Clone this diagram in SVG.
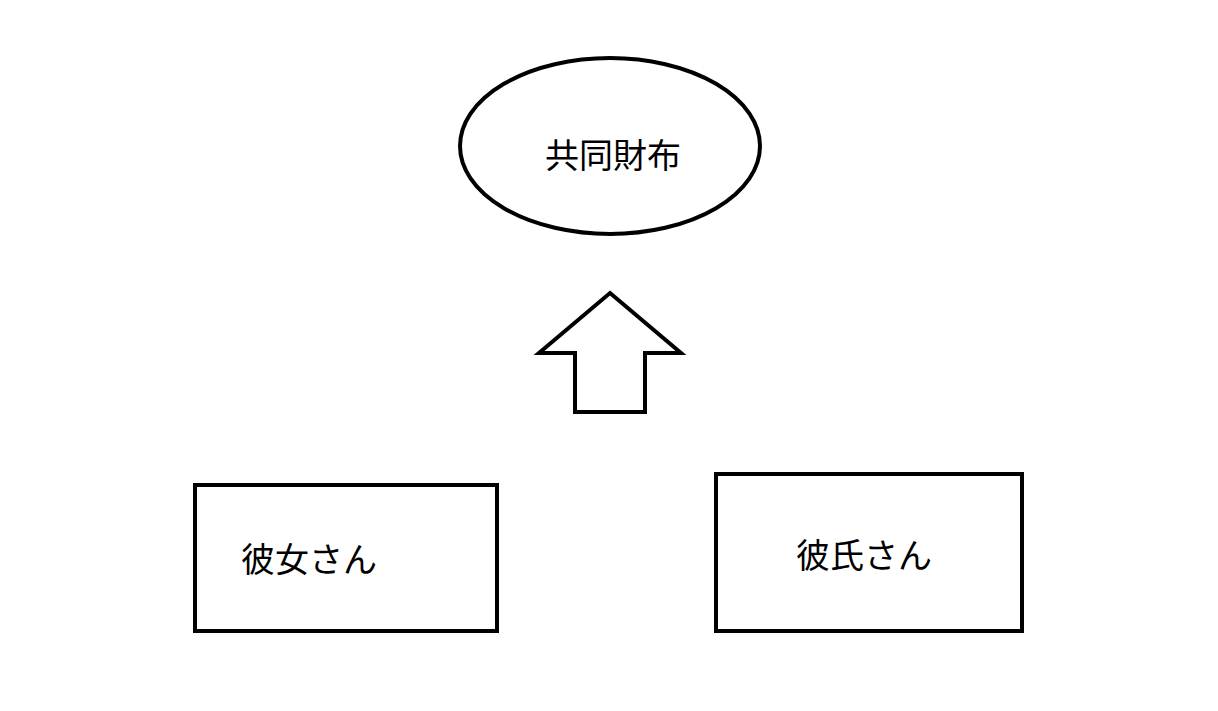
<svg xmlns="http://www.w3.org/2000/svg" width="1218" height="711" viewBox="0 0 1218 711">
<style>
.s{fill:#fff;stroke:#000;stroke-width:4}
.t{font-family:"Noto Sans CJK JP",sans-serif;font-size:34px;fill:#000}
</style>
<rect width="1218" height="711" fill="#fff"/>
<g id="wallet"><ellipse class="s" cx="610" cy="146" rx="150" ry="88"/><text class="t" x="545" y="168">共同財布</text></g>
<g id="connectors"><polygon class="s" points="610,293 681,353 645,353 645,412 575,412 575,353 539,353"/></g>
<g id="kanojo"><rect class="s" x="195" y="485" width="302" height="146"/><text class="t" x="241" y="572">彼女さん</text></g>
<g id="kareshi"><rect class="s" x="716" y="474" width="306" height="157"/><text class="t" x="796" y="568">彼氏さん</text></g>
</svg>
